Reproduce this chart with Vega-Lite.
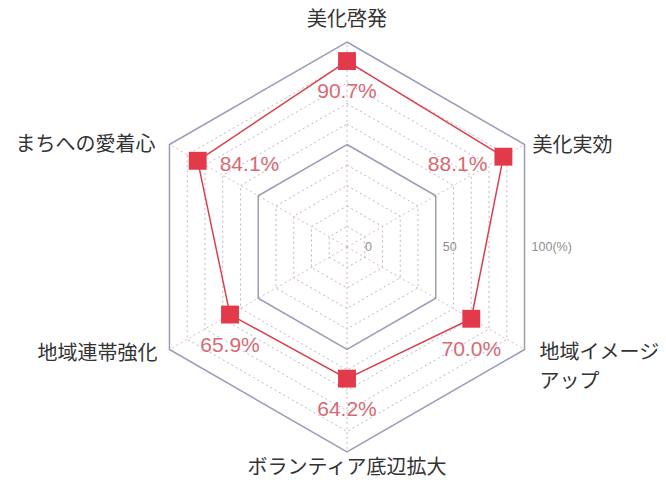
{
  "$schema": "https://vega.github.io/schema/vega-lite/v6.json",
  "width": 666,
  "height": 480,
  "padding": 0,
  "autosize": {"type": "fit", "contains": "padding"},
  "background": "white",
  "config": {"view": {"stroke": null}},
  "datasets": {
    "pts": [
      {"item": "美化啓発", "k": 0, "value": 90.7},
      {"item": "美化実効", "k": 1, "value": 88.1},
      {"item": "地域イメージ\nアップ", "k": 2, "value": 70.0},
      {"item": "ボランティア底辺拡大", "k": 3, "value": 64.2},
      {"item": "地域連帯強化", "k": 4, "value": 65.9},
      {"item": "まちへの愛着心", "k": 5, "value": 84.1}
    ],
    "grid": [
      {"level": 10, "ks": [0, 1, 2, 3, 4, 5]},
      {"level": 20, "ks": [0, 1, 2, 3, 4, 5]},
      {"level": 30, "ks": [0, 1, 2, 3, 4, 5]},
      {"level": 40, "ks": [0, 1, 2, 3, 4, 5]},
      {"level": 50, "ks": [0, 1, 2, 3, 4, 5]},
      {"level": 60, "ks": [0, 1, 2, 3, 4, 5]},
      {"level": 70, "ks": [0, 1, 2, 3, 4, 5]},
      {"level": 80, "ks": [0, 1, 2, 3, 4, 5]},
      {"level": 90, "ks": [0, 1, 2, 3, 4, 5]},
      {"level": 100, "ks": [0, 1, 2, 3, 4, 5]}
    ],
    "ticks": [
      {"tick": "0", "value": 0},
      {"tick": "50", "value": 50},
      {"tick": "100(%)", "value": 100}
    ]
  },
  "encoding": {
    "x": {"field": "x", "type": "quantitative", "scale": {"domain": [-1.6927, 1.5561], "nice": false, "zero": false}, "axis": null},
    "y": {"field": "y", "type": "quantitative", "scale": {"domain": [-1.1366, 1.2049], "nice": false, "zero": false}, "axis": null}
  },
  "layer": [
    {
      "data": {"name": "grid"},
      "transform": [
        {"flatten": ["ks"], "as": ["k"]},
        {"filter": "datum.level != 50 && datum.level != 100"},
        {"calculate": "(90 - 60 * datum.k) * PI / 180", "as": "ang"},
        {"calculate": "datum.level / 100 * cos(datum.ang)", "as": "x"},
        {"calculate": "datum.level / 100 * sin(datum.ang)", "as": "y"}
      ],
      "mark": {"type": "line", "interpolate": "linear-closed", "stroke": "#bdb6c2", "strokeWidth": 1, "strokeDash": [2, 3]},
      "encoding": {"detail": {"field": "level"}, "order": {"field": "k", "type": "quantitative"}}
    },
    {
      "data": {"name": "pts"},
      "transform": [
        {"calculate": "(90 - 60 * datum.k) * PI / 180", "as": "ang"},
        {"calculate": "0", "as": "x"},
        {"calculate": "0", "as": "y"},
        {"calculate": "cos(datum.ang)", "as": "x2"},
        {"calculate": "sin(datum.ang)", "as": "y2"}
      ],
      "mark": {"type": "rule", "stroke": "#e2b4bc", "strokeWidth": 1, "strokeDash": [2, 3]},
      "encoding": {"x2": {"field": "x2"}, "y2": {"field": "y2"}}
    },
    {
      "data": {"name": "grid"},
      "transform": [
        {"flatten": ["ks"], "as": ["k"]},
        {"filter": "datum.level == 50 || datum.level == 100"},
        {"calculate": "(90 - 60 * datum.k) * PI / 180", "as": "ang"},
        {"calculate": "datum.level / 100 * cos(datum.ang)", "as": "x"},
        {"calculate": "datum.level / 100 * sin(datum.ang)", "as": "y"}
      ],
      "mark": {"type": "line", "interpolate": "linear-closed", "stroke": "#9c9cba", "strokeWidth": 1.5},
      "encoding": {"detail": {"field": "level"}, "order": {"field": "k", "type": "quantitative"}}
    },
    {
      "data": {"name": "pts"},
      "transform": [
        {"calculate": "(90 - 60 * datum.k) * PI / 180", "as": "ang"},
        {"calculate": "datum.value / 100 * cos(datum.ang)", "as": "x"},
        {"calculate": "datum.value / 100 * sin(datum.ang)", "as": "y"}
      ],
      "mark": {"type": "line", "interpolate": "linear-closed", "stroke": "#d8404c", "strokeWidth": 1.5},
      "encoding": {"order": {"field": "k", "type": "quantitative"}}
    },
    {
      "data": {"name": "pts"},
      "transform": [
        {"calculate": "(90 - 60 * datum.k) * PI / 180", "as": "ang"},
        {"calculate": "datum.value / 100 * cos(datum.ang)", "as": "x"},
        {"calculate": "datum.value / 100 * sin(datum.ang)", "as": "y"}
      ],
      "mark": {"type": "square", "size": 320, "filled": true, "color": "#e23a4a", "opacity": 1, "cornerRadius": 2},
      "encoding": {}
    },
    {
      "data": {"name": "pts"},
      "transform": [
        {"filter": "datum.k == 0 || datum.k == 2 || datum.k == 3 || datum.k == 4"},
        {"calculate": "(90 - 60 * datum.k) * PI / 180", "as": "ang"},
        {"calculate": "datum.value / 100 * cos(datum.ang)", "as": "x"},
        {"calculate": "datum.value / 100 * sin(datum.ang)", "as": "y"},
        {"calculate": "format(datum.value, '.1f') + '%'", "as": "lab"}
      ],
      "mark": {"type": "text", "align": "center", "baseline": "middle", "dy": 31, "font": "Liberation Sans", "fontSize": 21, "color": "#d66a73"},
      "encoding": {"text": {"field": "lab"}}
    },
    {
      "data": {"name": "pts"},
      "transform": [
        {"filter": "datum.k == 1"},
        {"calculate": "(90 - 60 * datum.k) * PI / 180", "as": "ang"},
        {"calculate": "datum.value / 100 * cos(datum.ang)", "as": "x"},
        {"calculate": "datum.value / 100 * sin(datum.ang)", "as": "y"},
        {"calculate": "format(datum.value, '.1f') + '%'", "as": "lab"}
      ],
      "mark": {"type": "text", "align": "right", "baseline": "middle", "dx": -16, "dy": 8, "font": "Liberation Sans", "fontSize": 21, "color": "#d66a73"},
      "encoding": {"text": {"field": "lab"}}
    },
    {
      "data": {"name": "pts"},
      "transform": [
        {"filter": "datum.k == 5"},
        {"calculate": "(90 - 60 * datum.k) * PI / 180", "as": "ang"},
        {"calculate": "datum.value / 100 * cos(datum.ang)", "as": "x"},
        {"calculate": "datum.value / 100 * sin(datum.ang)", "as": "y"},
        {"calculate": "format(datum.value, '.1f') + '%'", "as": "lab"}
      ],
      "mark": {"type": "text", "align": "left", "baseline": "middle", "dx": 22, "dy": 4, "font": "Liberation Sans", "fontSize": 21, "color": "#d66a73"},
      "encoding": {"text": {"field": "lab"}}
    },
    {
      "data": {"name": "pts"},
      "transform": [
        {"filter": "datum.k == 0"},
        {"calculate": "(90 - 60 * datum.k) * PI / 180", "as": "ang"},
        {"calculate": "cos(datum.ang)", "as": "x"},
        {"calculate": "sin(datum.ang)", "as": "y"}
      ],
      "mark": {"type": "text", "align": "center", "baseline": "middle", "dy": -22, "font": "Noto Sans CJK JP", "fontSize": 20, "color": "#333333"},
      "encoding": {"text": {"field": "item"}}
    },
    {
      "data": {"name": "pts"},
      "transform": [
        {"filter": "datum.k == 3"},
        {"calculate": "(90 - 60 * datum.k) * PI / 180", "as": "ang"},
        {"calculate": "cos(datum.ang)", "as": "x"},
        {"calculate": "sin(datum.ang)", "as": "y"}
      ],
      "mark": {"type": "text", "align": "center", "baseline": "middle", "dy": 16, "font": "Noto Sans CJK JP", "fontSize": 20, "color": "#333333"},
      "encoding": {"text": {"field": "item"}}
    },
    {
      "data": {"name": "pts"},
      "transform": [
        {"filter": "datum.k == 1"},
        {"calculate": "(90 - 60 * datum.k) * PI / 180", "as": "ang"},
        {"calculate": "cos(datum.ang)", "as": "x"},
        {"calculate": "sin(datum.ang)", "as": "y"}
      ],
      "mark": {"type": "text", "align": "left", "baseline": "middle", "dx": 8, "dy": 1, "font": "Noto Sans CJK JP", "fontSize": 20, "color": "#333333"},
      "encoding": {"text": {"field": "item"}}
    },
    {
      "data": {"name": "pts"},
      "transform": [
        {"filter": "datum.k == 2"},
        {"calculate": "(90 - 60 * datum.k) * PI / 180", "as": "ang"},
        {"calculate": "cos(datum.ang)", "as": "x"},
        {"calculate": "sin(datum.ang)", "as": "y"}
      ],
      "mark": {"type": "text", "align": "left", "baseline": "middle", "dx": 15, "dy": 4, "lineBreak": "\n", "lineHeight": 29, "font": "Noto Sans CJK JP", "fontSize": 20, "color": "#333333"},
      "encoding": {"text": {"field": "item"}}
    },
    {
      "data": {"name": "pts"},
      "transform": [
        {"filter": "datum.k == 4"},
        {"calculate": "(90 - 60 * datum.k) * PI / 180", "as": "ang"},
        {"calculate": "cos(datum.ang)", "as": "x"},
        {"calculate": "sin(datum.ang)", "as": "y"}
      ],
      "mark": {"type": "text", "align": "right", "baseline": "middle", "dx": -12, "dy": 5, "font": "Noto Sans CJK JP", "fontSize": 20, "color": "#333333"},
      "encoding": {"text": {"field": "item"}}
    },
    {
      "data": {"name": "pts"},
      "transform": [
        {"filter": "datum.k == 5"},
        {"calculate": "(90 - 60 * datum.k) * PI / 180", "as": "ang"},
        {"calculate": "cos(datum.ang)", "as": "x"},
        {"calculate": "sin(datum.ang)", "as": "y"}
      ],
      "mark": {"type": "text", "align": "right", "baseline": "middle", "dx": -14, "dy": 0, "font": "Noto Sans CJK JP", "fontSize": 20, "color": "#333333"},
      "encoding": {"text": {"field": "item"}}
    },
    {
      "data": {"name": "ticks"},
      "transform": [
        {"filter": "datum.value > 0"},
        {"calculate": "datum.value / 100 * cos(PI / 6)", "as": "x"},
        {"calculate": "0", "as": "y"}
      ],
      "mark": {"type": "text", "align": "left", "baseline": "middle", "dx": 7, "font": "Liberation Sans", "fontSize": 12.5, "color": "#8f8f8f"},
      "encoding": {"text": {"field": "tick"}}
    },
    {
      "data": {"name": "ticks"},
      "transform": [
        {"filter": "datum.value == 0"},
        {"calculate": "0", "as": "x"},
        {"calculate": "0", "as": "y"}
      ],
      "mark": {"type": "text", "align": "left", "baseline": "middle", "dx": 18, "font": "Liberation Sans", "fontSize": 12.5, "color": "#8f8f8f"},
      "encoding": {"text": {"field": "tick"}}
    }
  ]
}
